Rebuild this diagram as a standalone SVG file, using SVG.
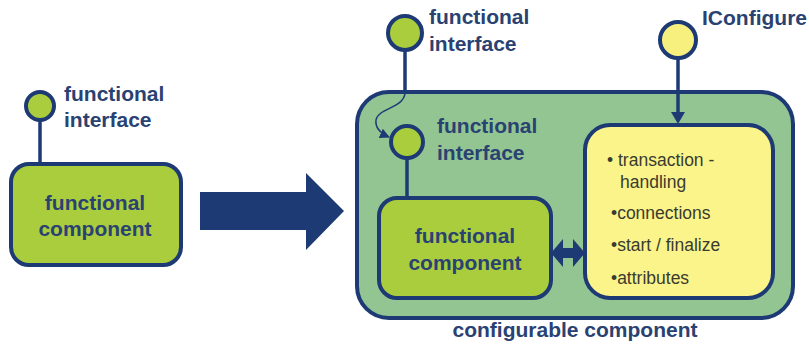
<svg xmlns="http://www.w3.org/2000/svg" width="809" height="347" viewBox="0 0 809 347">
<defs>
<style>
.lbl{font-family:"Liberation Sans",Arial,sans-serif;font-weight:bold;font-size:21px;fill:#2a4272}
.cmp{font-family:"Liberation Sans",Arial,sans-serif;font-weight:bold;font-size:21px;fill:#2a4272;text-anchor:middle}
.itm{font-family:"Liberation Sans",Arial,sans-serif;font-size:17.5px;fill:#3a3b30}
.edge{stroke:#1e3a74;stroke-width:3.5;fill:none}
.gbox{fill:#aacd3d;stroke:#1e3a74;stroke-width:4}
.gcirc{fill:#aacd3d;stroke:#1e3a74;stroke-width:4}
.ycirc{fill:#f7f07f;stroke:#1e3a74;stroke-width:4}
</style>
<marker id="ah" viewBox="0 0 10 10" refX="9" refY="5" markerWidth="4" markerHeight="4" orient="auto" markerUnits="strokeWidth">
<path d="M0,0 L10,5 L0,10 z" fill="#1e3a74"/>
</marker>
<marker id="ah2" viewBox="0 0 10 10" refX="9" refY="5" markerWidth="10" markerHeight="10" orient="auto" markerUnits="userSpaceOnUse">
<path d="M0,0 L10,5 L0,10 z" fill="#1e3a74"/>
</marker>
</defs>
<rect width="809" height="347" fill="#ffffff"/>

<g id="left-component">
<line class="edge" x1="40" y1="120" x2="40" y2="165"/>
<circle class="gcirc" cx="40" cy="106" r="14"/>
<text class="lbl" x="64" y="101">functional</text>
<text class="lbl" x="64" y="127">interface</text>
<rect class="gbox" x="11" y="164" width="170" height="101" rx="18"/>
<text class="cmp" x="95" y="210">functional</text>
<text class="cmp" x="95" y="236">component</text>
</g>

<g id="transform-arrow">
<path d="M200,192 L306,192 L306,173 L344,211 L306,250 L306,230 L200,230 z" fill="#1e3a74"/>
</g>

<g id="configurable-component">
<rect x="357" y="92" width="436" height="226" rx="32" fill="#93c592" stroke="#1e3a74" stroke-width="4"/>
<text class="cmp" x="575" y="337">configurable component</text>
</g>

<g id="outer-interface">
<circle class="gcirc" cx="405" cy="33" r="17"/>
<text class="lbl" x="429" y="24">functional</text>
<text class="lbl" x="429" y="51">interface</text>
</g>

<g id="iconfigure">
<circle class="ycirc" cx="678" cy="40" r="18"/>
<text class="lbl" x="702" y="25">IConfigure</text>
</g>

<g id="inner-interface">
<circle class="gcirc" cx="407" cy="142" r="16"/>
<text class="lbl" x="437" y="133">functional</text>
<text class="lbl" x="437" y="160">interface</text>
</g>

<g id="inner-component">
<rect class="gbox" x="379" y="198" width="172" height="100" rx="18"/>
<text class="cmp" x="465" y="243">functional</text>
<text class="cmp" x="465" y="270">component</text>
</g>

<g id="config-box">
<rect x="585" y="125" width="188" height="173" rx="25" fill="#faf48a" stroke="#1e3a74" stroke-width="4"/>
<text class="itm" x="607" y="166">• transaction  -</text>
<text class="itm" x="620" y="188">handling</text>
<text class="itm" x="611" y="219">•connections</text>
<text class="itm" x="611" y="251">•start / finalize</text>
<text class="itm" x="611" y="284">•attributes</text>
</g>

<g id="connectors">
<line class="edge" x1="405" y1="50" x2="405" y2="93"/>
<path d="M405,93 C404,108 378,108 376,120 C375,128 380,133 389,137" fill="none" stroke="#1e3a74" stroke-width="1.5" marker-end="url(#ah2)"/>
<line class="edge" x1="407" y1="158" x2="407" y2="198"/>
<line class="edge" x1="678" y1="58" x2="678" y2="114"/>
<path d="M671,112 L685,112 L678,124 z" fill="#1e3a74"/>
<path d="M551,253 L563,239 L563,248 L573,248 L573,239 L585,253 L573,267 L573,258 L563,258 L563,267 z" fill="#1e3a74"/>
</g>
</svg>
